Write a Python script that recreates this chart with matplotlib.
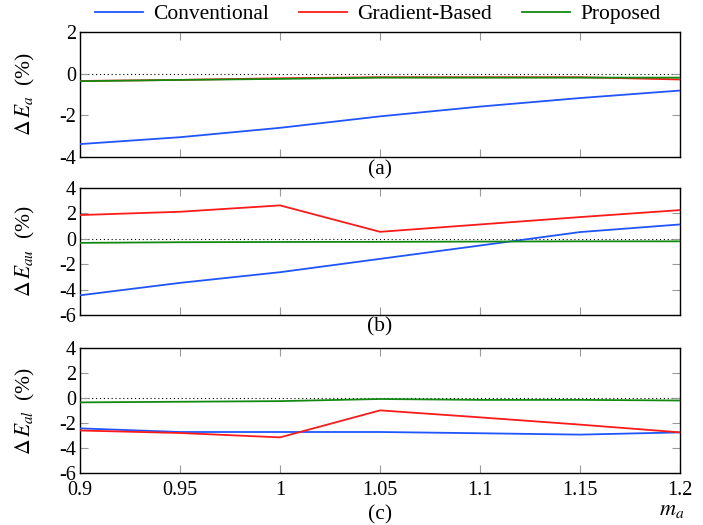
import matplotlib
matplotlib.use("Agg")
import matplotlib.pyplot as plt
from matplotlib.lines import Line2D

plt.rcParams['font.family'] = ['Liberation Serif', 'DejaVu Serif']
plt.rcParams['mathtext.fontset'] = 'stix'

m_a = [0.9, 0.95, 1.0, 1.05, 1.1, 1.15, 1.2]
x_ticks = [0.9, 0.95, 1.0, 1.05, 1.1, 1.15, 1.2]
x_ticklabels = ["0.9", "0.95", "1", "1.05", "1.1", "1.15", "1.2"]

# Panel (a): Delta E_a
a_conv = [-3.38, -3.05, -2.6, -2.05, -1.58, -1.17, -0.81]
a_grad = [-0.35, -0.3, -0.22, -0.17, -0.17, -0.17, -0.28]
a_prop = [-0.36, -0.3, -0.25, -0.19, -0.19, -0.19, -0.19]

# Panel (b): Delta E_au
b_conv = [-4.45, -3.47, -2.63, -1.58, -0.53, 0.53, 1.13]
b_grad = [1.87, 2.13, 2.63, 0.55, 1.13, 1.71, 2.26]
b_prop = [-0.32, -0.27, -0.25, -0.24, -0.22, -0.2, -0.2]

# Panel (c): Delta E_al
c_conv = [-2.43, -2.72, -2.72, -2.72, -2.82, -2.93, -2.75]
c_grad = [-2.6, -2.8, -3.15, -0.99, -1.55, -2.13, -2.75]
c_prop = [-0.35, -0.3, -0.25, -0.08, -0.15, -0.15, -0.2]

series_names = ["Conventional", "Gradient-Based", "Proposed"]
colors = ["#1f55ff", "#ff1a1a", "#128a12"]

panels = [
    ("$\\mathrm{\\Delta}\\,E_a$  (%)", [a_conv, a_grad, a_prop], (-4, 2), [-4, -2, 0, 2], "(a)"),
    ("$\\mathrm{\\Delta}\\,E_{au}$  (%)", [b_conv, b_grad, b_prop], (-6, 4), [-6, -4, -2, 0, 2, 4], "(b)"),
    ("$\\mathrm{\\Delta}\\,E_{al}$  (%)", [c_conv, c_grad, c_prop], (-6, 4), [-6, -4, -2, 0, 2, 4], "(c)"),
]

FS = 15.5
TFS = 14.5
fig = plt.figure(figsize=(7.03, 5.25), dpi=100)
W, H = 703.0, 525.0
left, right = 80 / W, 680 / W
boxes = [(32, 157), (188, 315), (348, 473)]
caption_y = [170, 327, 515]

for i, ((ylab, ys, ylim, yt, cap), (top, bot)) in enumerate(zip(panels, boxes)):
    ax = fig.add_axes([left, 1 - bot / H, right - left, (bot - top) / H])
    ax.axhline(0, color='black', linestyle=(0, (1, 2.5)), linewidth=0.8, zorder=1)
    for y, c in zip(ys, colors):
        ax.plot(m_a, y, color=c, linewidth=1.3, zorder=3)
    ax.set_xlim(0.9, 1.2)
    ax.set_ylim(*ylim)
    ax.set_yticks(yt)
    ax.set_yticklabels([str(v) for v in yt])
    ax.set_xticks(x_ticks)
    if i == 2:
        ax.set_xticklabels(x_ticklabels)
    else:
        ax.set_xticklabels([])
    ax.tick_params(direction='in', length=6, width=0.8, color='#999999',
                   top=True, right=True, labelsize=TFS)
    ax.tick_params(axis='y', pad=3)
    ax.tick_params(axis='x', pad=6)
    for s in ax.spines.values():
        s.set_linewidth(1.0)
        s.set_color('black')
    ax.set_ylabel(ylab, fontsize=FS)
    ax.yaxis.set_label_coords(-0.072, 0.5)
    fig.text((left + right) / 2, 1 - caption_y[i] / H, cap, ha='center', va='center', fontsize=FS)
    if i == 2:
        fig.text(672 / W, 1 - 510 / H, "$m_a$", ha='center', va='center', fontsize=16)

handles = [Line2D([0], [0], color=c, linewidth=1.3) for c in colors]
fig.legend(handles, series_names, loc='center', bbox_to_anchor=(378 / W, 1 - 14 / H),
           ncol=3, frameon=False, fontsize=FS, handlelength=2.2, columnspacing=1.4,
           handletextpad=0.5, borderpad=0, borderaxespad=0)

fig.savefig("out.png", dpi=100)
